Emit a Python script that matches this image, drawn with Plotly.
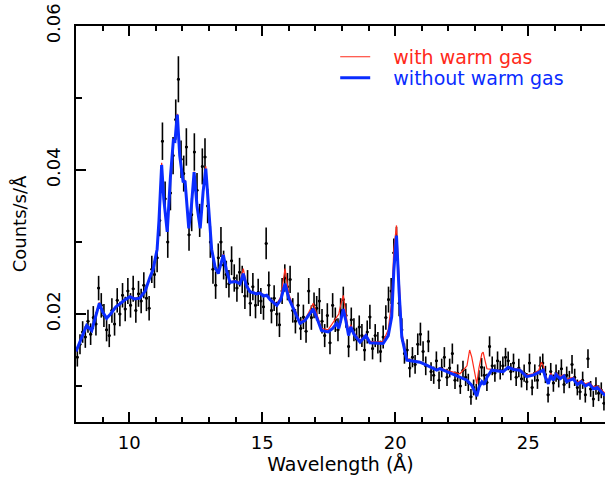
import plotly.graph_objects as go

# ---------------- data ----------------
wavelength = [
    8.05, 8.15, 8.25, 8.35, 8.45, 8.55, 8.65, 8.75, 8.85, 8.95,
    9.05, 9.15, 9.25, 9.35, 9.45, 9.55, 9.65, 9.75, 9.85, 9.95,
    10.05, 10.15, 10.25, 10.35, 10.45, 10.55, 10.65, 10.75, 10.85, 10.95,
    11.05, 11.15, 11.25, 11.35, 11.45, 11.55, 11.65, 11.75, 11.85, 11.95,
    12.05, 12.15, 12.25, 12.35, 12.45, 12.55, 12.65, 12.75, 12.85, 12.95,
    13.05, 13.15, 13.25, 13.35, 13.45, 13.55, 13.65, 13.75, 13.85, 13.95,
    14.05, 14.15, 14.25, 14.35, 14.45, 14.55, 14.65, 14.75, 14.85, 14.95,
    15.05, 15.15, 15.25, 15.35, 15.45, 15.55, 15.65, 15.75, 15.85, 15.95,
    16.05, 16.15, 16.25, 16.35, 16.45, 16.55, 16.65, 16.75, 16.85, 16.95,
    17.05, 17.15, 17.25, 17.35, 17.45, 17.55, 17.65, 17.75, 17.85, 17.95,
    18.05, 18.15, 18.25, 18.35, 18.45, 18.55, 18.65, 18.75, 18.85, 18.95,
    19.05, 19.15, 19.25, 19.35, 19.45, 19.55, 19.65, 19.75, 19.85, 19.95,
    20.05, 20.15, 20.25, 20.35, 20.45, 20.55, 20.65, 20.75, 20.85, 20.95,
    21.05, 21.15, 21.25, 21.35, 21.45, 21.55, 21.65, 21.75, 21.85, 21.95,
    22.05, 22.15, 22.25, 22.35, 22.45, 22.55, 22.65, 22.75, 22.85, 22.95,
    23.05, 23.15, 23.25, 23.35, 23.45, 23.55, 23.65, 23.75, 23.85, 23.95,
    24.05, 24.15, 24.25, 24.35, 24.45, 24.55, 24.65, 24.75, 24.85, 24.95,
    25.05, 25.15, 25.25, 25.35, 25.45, 25.55, 25.65, 25.75, 25.85, 25.95,
    26.05, 26.15, 26.25, 26.35, 26.45, 26.55, 26.65, 26.75, 26.85, 26.95,
    27.05, 27.15, 27.25, 27.35, 27.45, 27.55, 27.65, 27.75, 27.85, 27.95,
]

counts = [
    0.0140, 0.0158, 0.0175, 0.0168, 0.0190, 0.0172, 0.0195, 0.0186, 0.0236, 0.0212,
    0.0198, 0.0178, 0.0170, 0.0205, 0.0186, 0.0219, 0.0200, 0.0226, 0.0207, 0.0232,
    0.0212, 0.0235, 0.0205, 0.0228, 0.0218, 0.0240, 0.0222, 0.0208, 0.0262, 0.0255,
    0.0278, 0.0330, 0.0440, 0.0360, 0.0300, 0.0368, 0.0420, 0.0470, 0.0526, 0.0415,
    0.0395, 0.0432, 0.0310, 0.0338, 0.0425, 0.0372, 0.0330, 0.0405, 0.0418, 0.0350,
    0.0300, 0.0262, 0.0240, 0.0278, 0.0300, 0.0268, 0.0255, 0.0242, 0.0274, 0.0250,
    0.0236, 0.0258, 0.0248, 0.0225, 0.0242, 0.0215, 0.0238, 0.0212, 0.0230, 0.0218,
    0.0210, 0.0298, 0.0240, 0.0205, 0.0222, 0.0200, 0.0185, 0.0232, 0.0250, 0.0238,
    0.0248, 0.0205, 0.0190, 0.0212, 0.0180, 0.0196, 0.0176, 0.0232, 0.0195, 0.0212,
    0.0208, 0.0218, 0.0190, 0.0170, 0.0198, 0.0160, 0.0212, 0.0192, 0.0178, 0.0205,
    0.0220, 0.0198, 0.0155, 0.0192, 0.0178, 0.0165, 0.0182, 0.0170, 0.0150, 0.0175,
    0.0196, 0.0152, 0.0170, 0.0160, 0.0148, 0.0168, 0.0195, 0.0220, 0.0232, 0.0285,
    0.0300, 0.0215, 0.0178, 0.0145, 0.0150, 0.0125, 0.0140, 0.0130, 0.0158, 0.0172,
    0.0148, 0.0128, 0.0162, 0.0120, 0.0115, 0.0135, 0.0108, 0.0125, 0.0140, 0.0112,
    0.0125, 0.0145, 0.0108, 0.0118, 0.0100, 0.0122, 0.0112, 0.0105, 0.0085, 0.0098,
    0.0092, 0.0110, 0.0126, 0.0115, 0.0105, 0.0155, 0.0128, 0.0118, 0.0135, 0.0122,
    0.0128, 0.0140, 0.0135, 0.0120, 0.0132, 0.0112, 0.0125, 0.0110, 0.0118, 0.0106,
    0.0132, 0.0098, 0.0118, 0.0108, 0.0128, 0.0132, 0.0116, 0.0088, 0.0120, 0.0104,
    0.0118, 0.0110, 0.0124, 0.0102, 0.0115, 0.0109, 0.0130, 0.0112, 0.0098, 0.0092,
    0.0108, 0.0088, 0.0138, 0.0096, 0.0082, 0.0100, 0.0090, 0.0094, 0.0076, 0.0090,
]

counts_err = [
    0.0013, 0.0014, 0.0015, 0.0015, 0.0016, 0.0015, 0.0016, 0.0016, 0.0017, 0.0017,
    0.0016, 0.0016, 0.0016, 0.0017, 0.0016, 0.0017, 0.0017, 0.0017, 0.0017, 0.0018,
    0.0017, 0.0018, 0.0017, 0.0018, 0.0017, 0.0018, 0.0018, 0.0017, 0.0019, 0.0019,
    0.0020, 0.0022, 0.0026, 0.0024, 0.0022, 0.0024, 0.0026, 0.0028, 0.0032, 0.0026,
    0.0025, 0.0026, 0.0022, 0.0023, 0.0026, 0.0024, 0.0023, 0.0025, 0.0026, 0.0024,
    0.0022, 0.0020, 0.0019, 0.0020, 0.0021, 0.0020, 0.0019, 0.0019, 0.0020, 0.0019,
    0.0019, 0.0020, 0.0019, 0.0018, 0.0019, 0.0018, 0.0019, 0.0018, 0.0019, 0.0018,
    0.0018, 0.0022, 0.0019, 0.0018, 0.0018, 0.0017, 0.0017, 0.0018, 0.0019, 0.0019,
    0.0019, 0.0017, 0.0017, 0.0018, 0.0016, 0.0017, 0.0016, 0.0018, 0.0017, 0.0018,
    0.0017, 0.0018, 0.0017, 0.0016, 0.0017, 0.0016, 0.0017, 0.0017, 0.0016, 0.0017,
    0.0018, 0.0017, 0.0015, 0.0017, 0.0016, 0.0016, 0.0016, 0.0016, 0.0015, 0.0016,
    0.0017, 0.0015, 0.0016, 0.0015, 0.0015, 0.0016, 0.0017, 0.0018, 0.0018, 0.0020,
    0.0021, 0.0018, 0.0016, 0.0014, 0.0015, 0.0013, 0.0014, 0.0013, 0.0015, 0.0016,
    0.0014, 0.0013, 0.0015, 0.0013, 0.0012, 0.0013, 0.0012, 0.0013, 0.0014, 0.0012,
    0.0013, 0.0014, 0.0012, 0.0012, 0.0011, 0.0013, 0.0012, 0.0012, 0.0011, 0.0011,
    0.0011, 0.0012, 0.0013, 0.0012, 0.0012, 0.0014, 0.0013, 0.0012, 0.0013, 0.0013,
    0.0013, 0.0013, 0.0013, 0.0012, 0.0013, 0.0012, 0.0013, 0.0012, 0.0012, 0.0012,
    0.0013, 0.0011, 0.0012, 0.0012, 0.0013, 0.0013, 0.0012, 0.0011, 0.0012, 0.0012,
    0.0012, 0.0012, 0.0013, 0.0012, 0.0012, 0.0012, 0.0013, 0.0012, 0.0011, 0.0011,
    0.0012, 0.0011, 0.0013, 0.0011, 0.0011, 0.0012, 0.0011, 0.0011, 0.0010, 0.0011,
]

bin_half_width = 0.05

model_wl = [
    8.00, 8.20, 8.40, 8.59, 8.75, 8.88, 9.00, 9.15, 9.30, 9.50,
    9.65, 9.85, 10.03, 10.20, 10.40, 10.60, 10.78, 10.90, 11.05, 11.12,
    11.22, 11.30, 11.43, 11.55, 11.66, 11.72, 11.81, 11.90, 12.03, 12.10,
    12.24, 12.34, 12.44, 12.55, 12.67, 12.78, 12.88, 13.00, 13.10, 13.23,
    13.35, 13.54, 13.65, 13.79, 14.00, 14.17, 14.29, 14.40, 14.54, 14.79,
    14.92, 15.05, 15.17, 15.30, 15.55, 15.70, 15.86, 16.00, 16.17, 16.30,
    16.42, 16.61, 16.75, 16.92, 17.05, 17.23, 17.48, 17.65, 17.80, 17.88,
    17.95, 18.05, 18.15, 18.25, 18.33, 18.45, 18.68, 18.90, 19.05, 19.30,
    19.55, 19.74, 19.87, 19.95, 20.05, 20.15, 20.25, 20.44, 20.70, 20.93,
    21.18, 21.56, 21.68, 22.00, 22.44, 22.70, 22.80, 22.88, 23.07, 23.15,
    23.26, 23.31, 23.35, 23.45, 23.63, 24.06, 24.25, 24.45, 24.69, 24.94,
    25.19, 25.40, 25.50, 25.57, 25.65, 25.76, 25.85, 25.95, 26.05, 26.20,
    26.35, 26.45, 26.57, 26.70, 26.85, 27.00, 27.15, 27.30, 27.45, 27.60,
    27.75, 27.86, 28.00,
]

model_without_warm = [
    0.0148, 0.0166, 0.0184, 0.0177, 0.0200, 0.0215, 0.0203, 0.0194, 0.0200, 0.0210,
    0.0214, 0.0220, 0.0224, 0.0221, 0.0222, 0.0232, 0.0251, 0.0262, 0.0290, 0.0330,
    0.0407, 0.0360, 0.0314, 0.0390, 0.0441, 0.0440, 0.0477, 0.0420, 0.0383, 0.0385,
    0.0319, 0.0350, 0.0397, 0.0350, 0.0319, 0.0370, 0.0402, 0.0340, 0.0290, 0.0265,
    0.0256, 0.0282, 0.0262, 0.0244, 0.0245, 0.0242, 0.0256, 0.0240, 0.0231, 0.0228,
    0.0229, 0.0225, 0.0226, 0.0220, 0.0212, 0.0220, 0.0242, 0.0222, 0.0207, 0.0198,
    0.0187, 0.0191, 0.0198, 0.0207, 0.0195, 0.0177, 0.0175, 0.0180, 0.0187, 0.0180,
    0.0190, 0.0207, 0.0190, 0.0170, 0.0182, 0.0172, 0.0161, 0.0170, 0.0160, 0.0159,
    0.0159, 0.0170, 0.0196, 0.0260, 0.0309, 0.0230, 0.0168, 0.0136, 0.0134, 0.0133,
    0.0129, 0.0122, 0.0124, 0.0119, 0.0113, 0.0108, 0.0104, 0.0101, 0.0086, 0.0098,
    0.0106, 0.0104, 0.0102, 0.0112, 0.0122, 0.0120, 0.0126, 0.0123, 0.0122, 0.0113,
    0.0115, 0.0119, 0.0121, 0.0122, 0.0112, 0.0103, 0.0115, 0.0108, 0.0116, 0.0110,
    0.0114, 0.0106, 0.0108, 0.0110, 0.0102, 0.0106, 0.0100, 0.0103, 0.0096, 0.0098,
    0.0092, 0.0088, 0.0086,
]

model_with_warm = [
    0.0148, 0.0166, 0.0184, 0.0177, 0.0201, 0.0216, 0.0203, 0.0195, 0.0200, 0.0210,
    0.0215, 0.0220, 0.0225, 0.0222, 0.0223, 0.0233, 0.0252, 0.0263, 0.0291, 0.0332,
    0.0410, 0.0362, 0.0315, 0.0391, 0.0442, 0.0440, 0.0478, 0.0421, 0.0384, 0.0386,
    0.0320, 0.0351, 0.0398, 0.0351, 0.0320, 0.0372, 0.0405, 0.0342, 0.0292, 0.0266,
    0.0257, 0.0283, 0.0263, 0.0245, 0.0246, 0.0244, 0.0263, 0.0243, 0.0232, 0.0229,
    0.0230, 0.0226, 0.0227, 0.0221, 0.0214, 0.0224, 0.0263, 0.0228, 0.0210, 0.0200,
    0.0189, 0.0193, 0.0202, 0.0215, 0.0200, 0.0180, 0.0178, 0.0188, 0.0195, 0.0200,
    0.0212, 0.0226, 0.0200, 0.0175, 0.0185, 0.0174, 0.0163, 0.0172, 0.0162, 0.0161,
    0.0162, 0.0178, 0.0218, 0.0290, 0.0323, 0.0245, 0.0175, 0.0138, 0.0135, 0.0134,
    0.0130, 0.0123, 0.0125, 0.0121, 0.0117, 0.0128, 0.0150, 0.0140, 0.0103, 0.0125,
    0.0145, 0.0147, 0.0140, 0.0124, 0.0123, 0.0121, 0.0127, 0.0124, 0.0123, 0.0115,
    0.0117, 0.0122, 0.0133, 0.0128, 0.0115, 0.0106, 0.0118, 0.0111, 0.0118, 0.0113,
    0.0116, 0.0109, 0.0111, 0.0112, 0.0105, 0.0108, 0.0103, 0.0105, 0.0099, 0.0100,
    0.0095, 0.0091, 0.0088,
]

x_range = [8, 27.89]
y_range = [0.005, 0.06]
y_tickvals = [0.02, 0.04, 0.06]
y_ticktext = ["0.02", "0.04", "0.06"]

RED = "#ff2a1a"
BLUE = "#0a2cff"
FONT = "DejaVu Sans"
NB = "\u00a0"

fig = go.Figure()

fig.add_trace(go.Scatter(
    x=wavelength, y=counts, mode="markers",
    marker=dict(color="black", size=3),
    error_y=dict(type="data", array=counts_err, color="black", thickness=1.6, width=0),
    error_x=dict(type="constant", value=bin_half_width, color="black", thickness=1.6, width=0),
    showlegend=False, hoverinfo="skip",
))

fig.add_trace(go.Scatter(
    x=model_wl, y=model_with_warm, mode="lines",
    line=dict(color=RED, width=1.2),
    name=NB * 3 + '<span style="color:%s">with warm gas</span>' % RED,
    legend="legend",
))

fig.add_trace(go.Scatter(
    x=model_wl, y=model_without_warm, mode="lines",
    line=dict(color=BLUE, width=3),
    name=NB * 3 + '<span style="color:%s">without warm gas</span>' % BLUE,
    legend="legend2",
))

legend_common = dict(
    xanchor="left", yanchor="top",
    bgcolor="rgba(0,0,0,0)", borderwidth=0,
    font=dict(family=FONT, size=19),
    itemwidth=30,
)

fig.update_layout(
    width=605, height=479,
    margin=dict(l=76, r=0, t=26, b=57, autoexpand=False),
    paper_bgcolor="white", plot_bgcolor="white",
    font=dict(family=FONT, size=18, color="black"),
    showlegend=True,
    legend=dict(x=0.49, y=0.97, **legend_common),
    legend2=dict(x=0.49, y=0.917, **legend_common),
    xaxis=dict(
        range=x_range, showgrid=False, zeroline=False, automargin=False,
        showline=True, linecolor="black", linewidth=2, mirror="ticks",
        ticks="inside", ticklen=10, tickwidth=1.5, tickcolor="black",
        tick0=0, dtick=5, ticklabelstandoff=3,
        minor=dict(ticks="inside", ticklen=5, tickwidth=1.5, tickcolor="black", dtick=1, showgrid=False),
        title=dict(text="Wavelength (Å)", standoff=6, font=dict(size=19)),
        tickfont=dict(size=18),
    ),
    yaxis=dict(
        range=y_range, showgrid=False, zeroline=False, automargin=False,
        showline=True, linecolor="black", linewidth=2, mirror=False,
        ticks="inside", ticklen=10, tickwidth=1.5, tickcolor="black",
        tickmode="array", tickvals=y_tickvals, ticktext=y_ticktext,
        ticklabelstandoff=7,
        minor=dict(ticks="inside", ticklen=6, tickwidth=1.5, tickcolor="black",
                   tickmode="array", tickvals=[0.01, 0.03, 0.05], showgrid=False),
        tickangle=-90, tickfont=dict(size=18),
        title=dict(text="Counts/s/Å", standoff=11, font=dict(size=18)),
    ),
)

fig.write_html(
    "out.html",
    config={"displayModeBar": False},
    post_script="document.body.style.margin='0px';",
)
